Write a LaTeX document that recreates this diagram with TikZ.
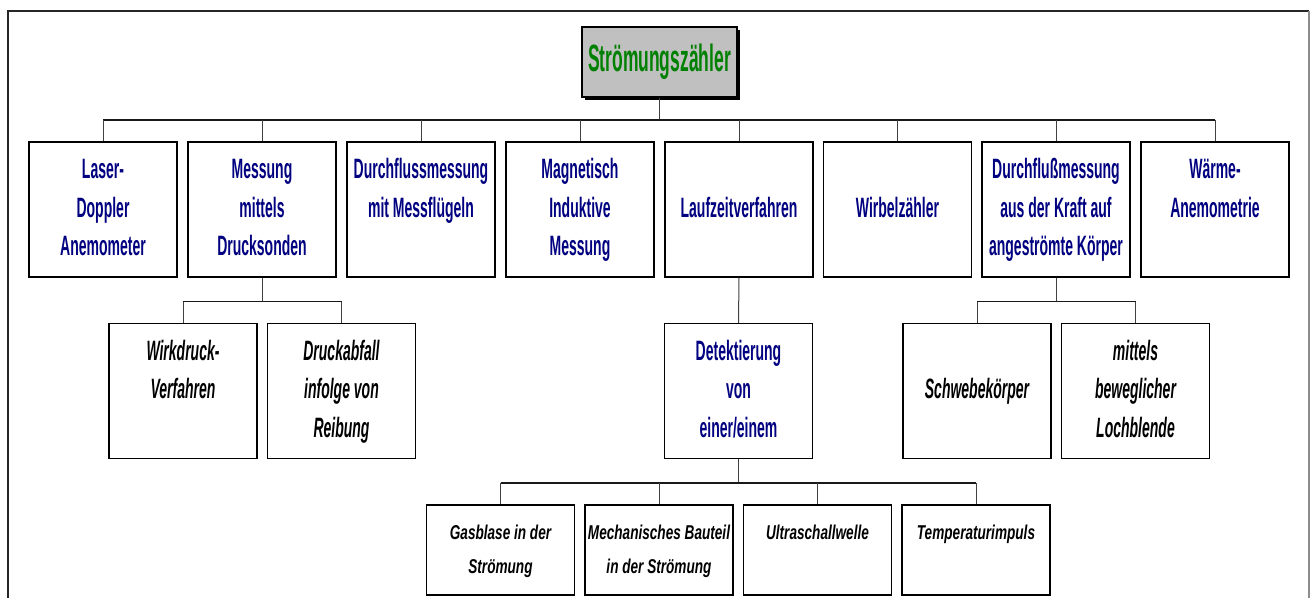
\documentclass[tikz,border=0pt]{standalone}
\usepackage{fontspec}
\usetikzlibrary{shadows}
% condensed Arial-like faces for the chart labels
\newfontfamily\chartfont[FakeStretch=0.5]{Liberation Sans}
\newfontfamily\titlefont[FakeStretch=0.46]{Liberation Sans}
\newfontfamily\leaffont[FakeStretch=0.68]{Liberation Sans}
\definecolor{navy}{HTML}{000080}
\definecolor{rootgreen}{HTML}{008000}
\definecolor{rootgray}{HTML}{C0C0C0}
\tikzset{
  frameline/.style={line width=1.6pt, draw=black!85},
  rootbox/.style={draw, line width=1.4pt, fill=rootgray, minimum width=155pt, minimum height=70pt,
    inner sep=0pt, text=rootgreen, font=\titlefont\bfseries\fontsize{38}{42}\selectfont,
    general shadow={fill=black, shadow xshift=3pt, shadow yshift=-3pt}},
  topbox/.style={draw, line width=1.3pt, fill=white, minimum width=148pt, minimum height=135pt,
    inner sep=0pt, align=center, text=navy, font=\chartfont\bfseries\fontsize{28}{38.5}\selectfont},
  subbox/.style={topbox, text=black, font=\chartfont\bfseries\itshape\fontsize{28}{38.5}\selectfont},
  leafbox/.style={draw, line width=1.3pt, fill=white, minimum width=148pt, minimum height=90pt,
    inner sep=0pt, align=center, text=black, font=\leaffont\bfseries\itshape\fontsize{20}{34}\selectfont},
  bus/.style={line width=1.6pt, draw=black!90},
  link/.style={line width=1pt, draw=black!75},
}
\begin{document}
\begin{tikzpicture}[x=1pt,y=-1pt]
\useasboundingbox (0,0) rectangle (1310,598);

% outer frame, open at the bottom
\draw[frameline] (8,598) -- (8,11) -- (1309,11);
\draw[line width=1.2pt, draw=black!45] (1309,11) -- (1309,598);

% root
\node[rootbox] (root) at (659.5,62) {Strömungszähler};

% first level
\node[topbox] (laser)    at (103,209.5)  {\strut Laser-\\\strut Doppler\\\strut Anemometer};
\node[topbox] (druck)    at (262,209.5)  {\strut Messung\\\strut mittels\\\strut Drucksonden};
\node[topbox] (fluegel)  at (421,209.5)  {\strut Durchflussmessung\\\strut mit Messflügeln\\\strut};
\node[topbox] (induktiv) at (580,209.5)  {\strut Magnetisch\\\strut Induktive\\\strut Messung};
\node[topbox] (laufzeit) at (739,209.5)  {\strut Laufzeitverfahren};
\node[topbox] (wirbel)   at (897.5,209.5){\strut Wirbelzähler};
\node[topbox] (kraft)    at (1056,209.5) {\strut Durchflußmessung\\\strut aus der Kraft auf\\\strut angeströmte Körper};
\node[topbox] (waerme)   at (1215,209.5) {\strut Wärme-\\\strut Anemometrie\\\strut};

% second level
\node[subbox] (wirk)    at (183,391)   {\strut Wirkdruck-\\\strut Verfahren\\\strut};
\node[subbox] (reib)    at (341.5,391) {\strut Druckabfall\\\strut infolge von\\\strut Reibung};
\node[topbox] (det)     at (738.5,391) {\strut Detektierung\\\strut von\\\strut einer/einem};
\node[subbox] (schwebe) at (977,391)   {\strut Schwebekörper};
\node[subbox] (blende)  at (1135.5,391){\strut mittels\\\strut beweglicher\\\strut Lochblende};

% third level
\node[leafbox] (gas)     at (500.5,550) {\strut Gasblase in der\\\strut Strömung};
\node[leafbox] (bauteil) at (659,550)   {\strut Mechanisches Bauteil\\\strut in der Strömung};
\node[leafbox] (ultra)   at (817.5,550) {\strut Ultraschallwelle\\\strut};
\node[leafbox] (temp)    at (976,550)   {\strut Temperaturimpuls\\\strut};

% connectors: root to first level
\path (root.south) ++(0,22) coordinate (j1);
\draw[link] (root.south) -- (j1);
\draw[bus] (laser.north |- j1) -- (waerme.north |- j1);
\foreach \c in {laser,druck,fluegel,induktiv,laufzeit,wirbel,kraft,waerme}
  \draw[link] (\c.north |- j1) -- (\c.north);

% pressure probes
\path (druck.south) ++(0,24) coordinate (j2);
\draw[link] (druck.south) -- (j2);
\draw[bus] (wirk.north |- j2) -- (reib.north |- j2);
\foreach \c in {wirk,reib}
  \draw[link] (\c.north |- j2) -- (\c.north);

% transit time
\draw[link] (laufzeit.south) -- (det.north);
\path (det.south) ++(0,24) coordinate (j3);
\draw[link] (det.south) -- (j3);
\draw[bus] (gas.north |- j3) -- (temp.north |- j3);
\foreach \c in {gas,bauteil,ultra,temp}
  \draw[link] (\c.north |- j3) -- (\c.north);

% force on bodies in the flow
\path (kraft.south) ++(0,24) coordinate (j4);
\draw[link] (kraft.south) -- (j4);
\draw[bus] (schwebe.north |- j4) -- (blende.north |- j4);
\foreach \c in {schwebe,blende}
  \draw[link] (\c.north |- j4) -- (\c.north);
\end{tikzpicture}
\end{document}
